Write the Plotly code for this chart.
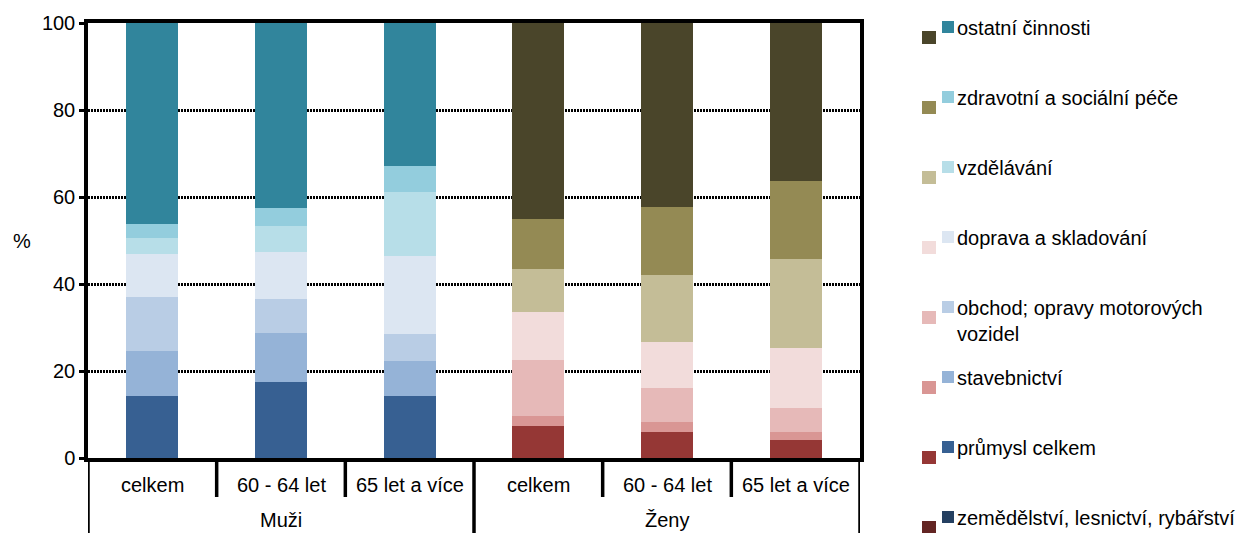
import plotly.graph_objects as go

# ---------------- data ----------------
groups = ["Muži", "Ženy"]
ages = ["celkem", "60 - 64 let", "65 let a více"]
sectors = [
    "zemědělství, lesnictví, rybářství",
    "průmysl celkem",
    "stavebnictví",
    "obchod; opravy motorových<br>vozidel",
    "doprava a skladování",
    "vzdělávání",
    "zdravotní a sociální péče",
    "ostatní činnosti",
]
# values in % (per sector, bars: celkem, 60-64, 65+)
men_values = [
    [0.0, 0.0, 0.0],
    [14.2, 17.5, 14.2],
    [10.5, 11.3, 8.2],
    [12.3, 7.8, 6.0],
    [9.9, 10.8, 18.0],
    [3.7, 5.9, 14.7],
    [3.1, 4.1, 6.0],
    [46.3, 42.6, 32.9],
]
women_values = [
    [0.0, 0.0, 0.0],
    [7.4, 6.0, 4.1],
    [2.3, 2.3, 1.9],
    [12.8, 7.8, 5.5],
    [11.1, 10.6, 13.8],
    [9.8, 15.4, 20.4],
    [11.5, 15.6, 18.0],
    [45.1, 42.3, 36.3],
]
men_colors = ["#254061", "#376092", "#95B3D7", "#B9CDE5", "#DCE6F2", "#B7DEE8", "#93CDDD", "#31859C"]
women_colors = ["#632523", "#953735", "#D99694", "#E6B9B8", "#F2DCDB", "#C4BD97", "#948A54", "#4A452A"]
y_ticks = [0, 20, 40, 60, 80, 100]

# ---------------- layout geometry ----------------
W, H = 1260, 533
L, R, T, B = 88, 860, 23, 458
FONT = "Arial, Liberation Sans, sans-serif"
FS = 20


def px_x(px):
    return (px - L) / (R - L)


def px_y(py):
    return (B - py) / (B - T)


cats_men = [f"{groups[0]} {a}" for a in ages]
cats_women = [f"{groups[1]} {a}" for a in ages]
all_cats = cats_men + cats_women

fig = go.Figure()
for i, s in enumerate(sectors):
    fig.add_trace(go.Bar(x=cats_men, y=men_values[i], name=s, marker_color=men_colors[i],
                         marker_line_width=0, showlegend=False))
    fig.add_trace(go.Bar(x=cats_women, y=women_values[i], name=s, marker_color=women_colors[i],
                         marker_line_width=0, showlegend=False))

shapes = []
annotations = []

# category dividers below the axis
n = len(all_cats)
for k in range(n + 1):
    xpos = k - 0.5
    long = (k % 3 == 0)
    shapes.append(dict(type="line", xref="x", yref="paper", x0=xpos, x1=xpos,
                       y0=0, y1=px_y(540 if long else 497),
                       line=dict(color="black", width=3.5)))

# sub-category labels
for k, c in enumerate(all_cats):
    annotations.append(dict(x=k, y=px_y(485), xref="x", yref="paper", text=ages[k % 3],
                            showarrow=False, xanchor="center", yanchor="middle",
                            font=dict(family=FONT, size=FS, color="black")))
# group labels
for g, name in enumerate(groups):
    annotations.append(dict(x=g * 3 + 1, y=px_y(520), xref="x", yref="paper", text=name,
                            showarrow=False, xanchor="center", yanchor="middle",
                            font=dict(family=FONT, size=FS, color="black")))

# y title
annotations.append(dict(x=px_x(22), y=px_y(241), xref="paper", yref="paper", text="%",
                        showarrow=False, xanchor="center", yanchor="middle",
                        font=dict(family=FONT, size=FS, color="black")))

# custom legend: two squares per item (women colour + men colour)
for j, idx in enumerate(reversed(range(len(sectors)))):
    c = 28 + 70 * j
    shapes.append(dict(type="rect", xref="paper", yref="paper",
                       x0=px_x(922), x1=px_x(936), y0=px_y(c + 16), y1=px_y(c + 3),
                       fillcolor=women_colors[idx], line=dict(width=0)))
    shapes.append(dict(type="rect", xref="paper", yref="paper",
                       x0=px_x(942), x1=px_x(954), y0=px_y(c + 5), y1=px_y(c - 7),
                       fillcolor=men_colors[idx], line=dict(width=0)))
    text = sectors[idx]
    if "<br>" in text:
        annotations.append(dict(x=px_x(955), y=px_y(c - 13), xref="paper", yref="paper",
                                text=text, showarrow=False, xanchor="left", yanchor="top",
                                align="left",
                                font=dict(family=FONT, size=FS, color="black")))
    else:
        annotations.append(dict(x=px_x(955), y=px_y(c), xref="paper", yref="paper",
                                text=text, showarrow=False, xanchor="left", yanchor="middle",
                                align="left",
                                font=dict(family=FONT, size=FS, color="black")))

fig.update_layout(
    width=W, height=H,
    margin=dict(l=L, r=W - R, t=T, b=H - B, pad=0),
    barmode="stack", bargap=0.595,
    plot_bgcolor="white", paper_bgcolor="white",
    font=dict(family=FONT, size=FS, color="black"),
    shapes=shapes, annotations=annotations,
    showlegend=False,
)
fig.update_xaxes(type="category", categoryorder="array", categoryarray=all_cats,
                 range=[-0.5, n - 0.5], showticklabels=False, ticks="",
                 showline=True, linecolor="black", linewidth=3.5, mirror=True,
                 showgrid=False, zeroline=False)
fig.update_yaxes(range=[0, 100], tickvals=y_ticks, ticks="outside", ticklen=5,
                 tickwidth=3, tickcolor="black",
                 showline=True, linecolor="black", linewidth=3.5, mirror=True,
                 showgrid=True, gridcolor="black", gridwidth=3, griddash="2px,1px",
                 zeroline=False, tickfont=dict(family=FONT, size=FS, color="black"))

fig.write_html("out.html", config={"displayModeBar": False},
               post_script="document.body.style.margin='0';document.body.style.overflow='hidden';")
